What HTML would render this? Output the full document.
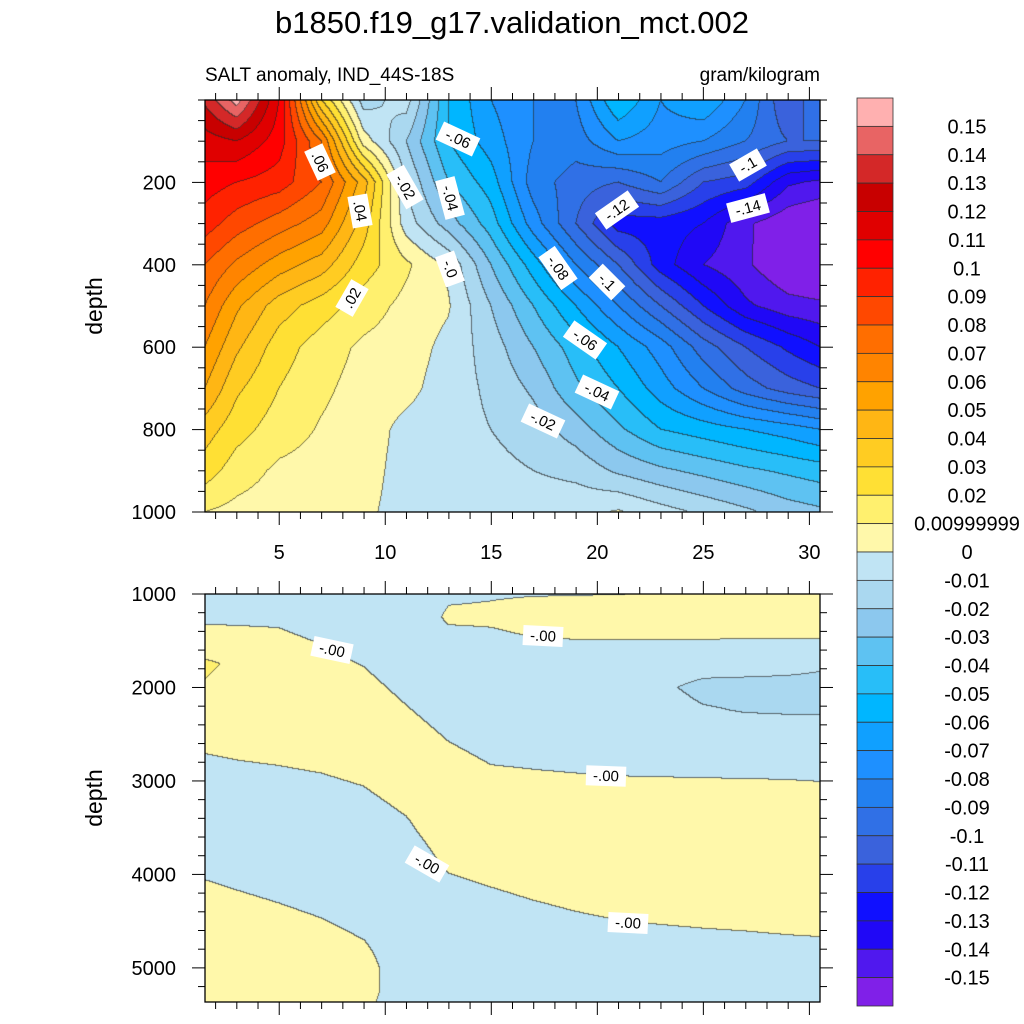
<!DOCTYPE html>
<html><head><meta charset="utf-8"><style>
html,body{margin:0;padding:0;background:#fff;width:1024px;height:1024px;overflow:hidden}
#wrap{position:relative;width:1024px;height:1024px}
canvas{position:absolute}
svg{position:absolute;left:0;top:0}
text{font-family:"Liberation Sans",sans-serif}
</style></head><body>
<div id="wrap">
<canvas id="cTop" width="615" height="412" style="left:205px;top:100px"></canvas>
<canvas id="cBot" width="615" height="408" style="left:205px;top:594px"></canvas>
<svg id="svg" width="1024" height="1024" xmlns="http://www.w3.org/2000/svg">
<text x="512" y="33" text-anchor="middle" font-size="31">b1850.f19_g17.validation_mct.002</text>
<text x="205" y="81" font-size="19">SALT anomaly, IND_44S-18S</text>
<text x="820" y="81" text-anchor="end" font-size="19">gram/kilogram</text>
<text transform="translate(102,306) rotate(-90)" text-anchor="middle" font-size="23">depth</text>
<text transform="translate(102,798) rotate(-90)" text-anchor="middle" font-size="23">depth</text>
<g id="ticks"></g>
<g id="cbar"></g>
<g id="clabels"></g>
</svg>
</div>
<script>
// ---- data ----
const xVals = [1.5,3,5,7,9,11,13,15,17,19,21,23,25,27,29,30.5];
const topDepths = [0,100,200,300,400,500,600,700,800,900,1000];
const topValues = [ // units of 0.001 g/kg
[132,155,110,30,-15,-5,-50,-70,-80,-80,-50,-70,-60,-80,-110,-90],
[115,120,105,70,5,-20,-50,-65,-80,-85,-70,-75,-80,-90,-100,-100],
[105,100,95,80,45,-10,-40,-55,-85,-95,-100,-90,-110,-115,-138,-142],
[95,85,75,65,35,-5,-25,-45,-75,-100,-125,-125,-130,-148,-158,-162],
[80,68,55,45,25,12,-2,-30,-55,-80,-100,-125,-140,-148,-160,-163],
[70,52,35,25,15,7,1,-20,-40,-60,-80,-100,-120,-138,-146,-148],
[60,42,25,15,8,5,-3,-15,-30,-45,-60,-75,-95,-110,-122,-130],
[50,32,20,12,6,3,-5,-12,-22,-38,-50,-65,-80,-95,-105,-110],
[35,24,15,9,5,-3,-6,-10,-15,-25,-38,-50,-55,-60,-65,-70],
[25,15,8,6,4,-4,-5,-7,-10,-13,-22,-28,-33,-38,-42,-45],
[10,7,5,4,2,-4,-4,-5,-4,-3,1,-6,-12,-18,-25,-28]
];
const botDepths = [1000,1250,1500,1750,2000,2250,2500,2750,3000,3250,3500,3750,4000,4250,4500,4750,5000,5250,5375];
const botValues = [
[-3,-3.4,-3.6,-5,-5,-5,-1,-0.5,-0.3,-0.2,-0.1,0.2,0.3,0.3,0.3,0.3],
[-0.8,-0.9,-1.1,-2.9,-5,-5,1,1.1,2.2,2.3,2.4,2.5,2.5,2.5,2.5,2.5],
[1.7,1.6,1.3,-0.4,-2.8,-5,-2,-1.4,-0.3,-0.1,-0.1,-0.1,-0.1,-0.2,-0.2,-0.2],
[12,8,3.8,2,-0.3,-4.4,-5,-3.9,-2.8,-2.6,-2.5,-2.5,-5,-6,-7,-8.5],
[9,5,5,4.5,2.2,-1.9,-5,-5,-5,-5,-5,-8,-13,-13,-13,-13],
[5,5,5,5,4.7,0.6,-3.3,-5,-5,-5,-5,-5,-9,-10.5,-11,-11],
[2.1,2.8,3.4,4.2,5,3.1,-0.8,-3.3,-3.8,-4.2,-4.5,-4.6,-5,-5,-5,-5],
[-0.4,0.3,0.9,1.7,3.1,5,1.7,-0.8,-1.3,-1.7,-2,-2.1,-2.2,-2.2,-2.2,-2.2],
[-2.9,-2.2,-1.6,-0.8,0.6,3.8,4.2,1.7,1.2,0.8,0.5,0.4,0.3,0.2,0.1,-0.1],
[-5,-4.7,-4.1,-3.3,-1.9,1.3,5,4.2,3.7,3.3,3,2.9,2.8,2.7,2.6,2.4],
[-5,-5,-5,-5,-4.4,-1.2,5,5,5,5,5,5,5,5,5,5],
[-3.1,-4.2,-5,-5,-5,-3.7,2.5,3.9,5,5,5,5,5,5,5,5],
[-0.6,-1.7,-3.1,-4.7,-5,-5,-0.1,1.4,2.8,4,5,5,5,5,5,5],
[1.9,0.8,-0.6,-2.2,-4.5,-5,-2.5,-1.1,0.3,1.5,2.5,2.9,3.3,3.6,3.8,4],
[4.4,3.3,1.9,0.3,-2,-5,-5,-3.6,-2.2,-1,-0.1,0.4,0.8,1.1,1.5,1.7],
[5,5,4.4,2.8,0.5,-5,-5,-5,-4.7,-3.5,-2.5,-2.1,-1.7,-1.4,-1,-0.8],
[5,5,5,5,3,-5,-5,-5,-5,-5,-5,-4.6,-4.2,-3.9,-3.5,-3.3],
[5,5,5,5,3,-5,-5,-5,-5,-5,-5,-5,-5,-5,-5,-5],
[5,5,5,5,2,-5,-5,-5,-5,-5,-5,-5,-5,-5,-5,-5]
];
const levelLabels = ["0.15","0.14","0.13","0.12","0.11","0.1","0.09","0.08","0.07","0.06","0.05","0.04","0.03","0.02","0.00999999","0","-0.01","-0.02","-0.03","-0.04","-0.05","-0.06","-0.07","-0.08","-0.09","-0.1","-0.11","-0.12","-0.13","-0.14","-0.15"];
const levels = [150,140,130,120,110,100,90,80,70,60,50,40,30,20,10,0,-10,-20,-30,-40,-50,-60,-70,-80,-90,-100,-110,-120,-130,-140,-150];
const colors = ["#FFB0B0","#E86464","#D42828","#C80000","#E00000","#FF0000","#FF2200","#FF4800","#FF6E00","#FF8400","#FFA200","#FFB614","#FFCC22","#FFE034","#FFF06E","#FFF8AA","#C0E4F4","#AAD8F0","#8CC8EE","#5EC2F2","#28BEF8","#00B6FF","#10A0FF","#1E90FF","#2280F0","#3070E6","#3A62DC","#2840EA","#1010FF","#2008F6","#5018EE","#8020E8"];
const topXTicks=[5,10,15,20,25,30];
const topYTicks=[200,400,600,800,1000];
const botYTicks=[1000,2000,3000,4000,5000];

// ---- axes ----
const PX0=205, PX1=820;
const xScale = x => PX0 + (x-1.5)*(PX1-PX0)/29;
const topY = d => 100 + d*(412/1000);
const botY = d => 594 + (d-1000)*(408/4365);

function hexRgb(h){return [parseInt(h.substr(1,2),16),parseInt(h.substr(3,2),16),parseInt(h.substr(5,2),16)];}
const rgb = colors.map(hexRgb);
function levelIndex(v){let c=0;for(const l of levels){if(l>v)c++;}return c;}

function renderField(canvasId, depths, values, yFn, top){
  const cv=document.getElementById(canvasId), ctx=cv.getContext('2d');
  const W=cv.width,H=cv.height, img=ctx.createImageData(W,H);
  const xp=xVals.map(x=>xScale(x)-PX0), yp=depths.map(d=>yFn(d)-top);
  const idx=new Int16Array(W*H);
  for(let j=0;j<H;j++){
    const py=j+0.5; let r=0; while(r<yp.length-2 && py>yp[r+1]) r++;
    let ty=(py-yp[r])/(yp[r+1]-yp[r]); ty=Math.max(0,Math.min(1,ty));
    for(let i=0;i<W;i++){
      const px=i+0.5; let c=0; while(c<xp.length-2 && px>xp[c+1]) c++;
      let tx=(px-xp[c])/(xp[c+1]-xp[c]); tx=Math.max(0,Math.min(1,tx));
      const v=(values[r][c]*(1-tx)+values[r][c+1]*tx)*(1-ty)+(values[r+1][c]*(1-tx)+values[r+1][c+1]*tx)*ty;
      idx[j*W+i]=levelIndex(v);
    }
  }
  for(let j=0;j<H;j++)for(let i=0;i<W;i++){
    const k=idx[j*W+i]; let col=rgb[k];
    const edge=(i<W-1&&idx[j*W+i+1]!==k)||(j<H-1&&idx[(j+1)*W+i]!==k);
    const p=(j*W+i)*4;
    if(edge){img.data[p]=(col[0]*0.35+40*0.65);img.data[p+1]=(col[1]*0.35+40*0.65);img.data[p+2]=(col[2]*0.35+40*0.65);}
    else{img.data[p]=col[0];img.data[p+1]=col[1];img.data[p+2]=col[2];}
    img.data[p+3]=255;
  }
  ctx.putImageData(img,0,0);
}
renderField('cTop',topDepths,topValues,topY,100);
renderField('cBot',botDepths,botValues,botY,594);

const NS="http://www.w3.org/2000/svg";
function mk(tag,attrs,parent){const e=document.createElementNS(NS,tag);for(const k in attrs)e.setAttribute(k,attrs[k]);parent.appendChild(e);return e;}
const tg=document.getElementById('ticks');

function panel(y0,y1,yFn,yTicks,minorStep,dMin,dMax,name){
  const fr=mk('rect',{x:PX0,y:y0,width:PX1-PX0,height:y1-y0,fill:'none',stroke:'#000','stroke-width':1.3},tg);
  
  
  for(let x=2;x<=30;x++){
    const L=(x%5===0)?13:7, px=xScale(x);
    mk('line',{x1:px,y1:y0,x2:px,y2:y0-L,stroke:'#000','stroke-width':1},tg);
    mk('line',{x1:px,y1:y1,x2:px,y2:y1+L,stroke:'#000','stroke-width':1},tg);
  }
  for(let d=Math.ceil(dMin/minorStep)*minorStep; d<=dMax; d+=minorStep){
    const major=yTicks.includes(d), L=major?13:7, py=yFn(d);
    mk('line',{x1:PX0,y1:py,x2:PX0-L,y2:py,stroke:'#000','stroke-width':1},tg);
    mk('line',{x1:PX1,y1:py,x2:PX1+L,y2:py,stroke:'#000','stroke-width':1},tg);
  }
  for(const d of yTicks){
    const t=mk('text',{x:176,y:yFn(d)+7,'text-anchor':'end','font-size':20},tg);
    t.textContent=d;
    
    
  }
}
panel(100,512,topY,topYTicks,50,0,1000,'upper');
panel(594,1002,botY,botYTicks,200,1000,5364,'lower');
for(const x of topXTicks){
  const t=mk('text',{x:xScale(x),y:559,'text-anchor':'middle','font-size':20},tg);
  t.textContent=x;
  
  
}

// colorbar
const cb=document.getElementById('cbar');
const CB0=98, CBH=(1006-98)/colors.length;
colors.forEach((c,i)=>{
  const r=mk('rect',{x:857,y:CB0+i*CBH,width:36,height:CBH,fill:c,stroke:'#333','stroke-width':0.8},cb);
  
  
});
levelLabels.forEach((l,i)=>{
  const t=mk('text',{x:967,y:CB0+(i+1)*CBH+7,'text-anchor':'middle','font-size':20},cb);
  t.textContent=l;
  
  
});

// contour labels
const clText=[".06",".04","-.02","-.04","-.06","-.0",".02","-.1","-.14","-.12","-.08","-.1","-.06","-.04","-.02","-.00","-.00","-.00","-.00","-.00"];
const clPos=[[320,162],[360,211],[405,187],[450,198],[458,139],[450,269],[352,298],[748,165],[748,208],[617,210],[558,268],[607,282],[585,340],[597,392],[543,421],[332,650],[543,636],[606,776],[427,864],[628,923]];
const clRot=[65,80,60,75,25,70,-60,-30,-15,-35,55,45,35,25,25,12,3,2,30,3];
const clg=document.getElementById('clabels');
clText.forEach((s,i)=>{
  const g=mk('g',{transform:`translate(${clPos[i][0]},${clPos[i][1]}) rotate(${clRot[i]})`},clg);
  
  
  const w=s.length*8+8;
  mk('rect',{x:-w/2,y:-10,width:w,height:20,fill:'#fff'},g);
  const t=mk('text',{x:0,y:5,'text-anchor':'middle','font-size':15},g);
  t.textContent=s;
});
</script>
</body></html>
